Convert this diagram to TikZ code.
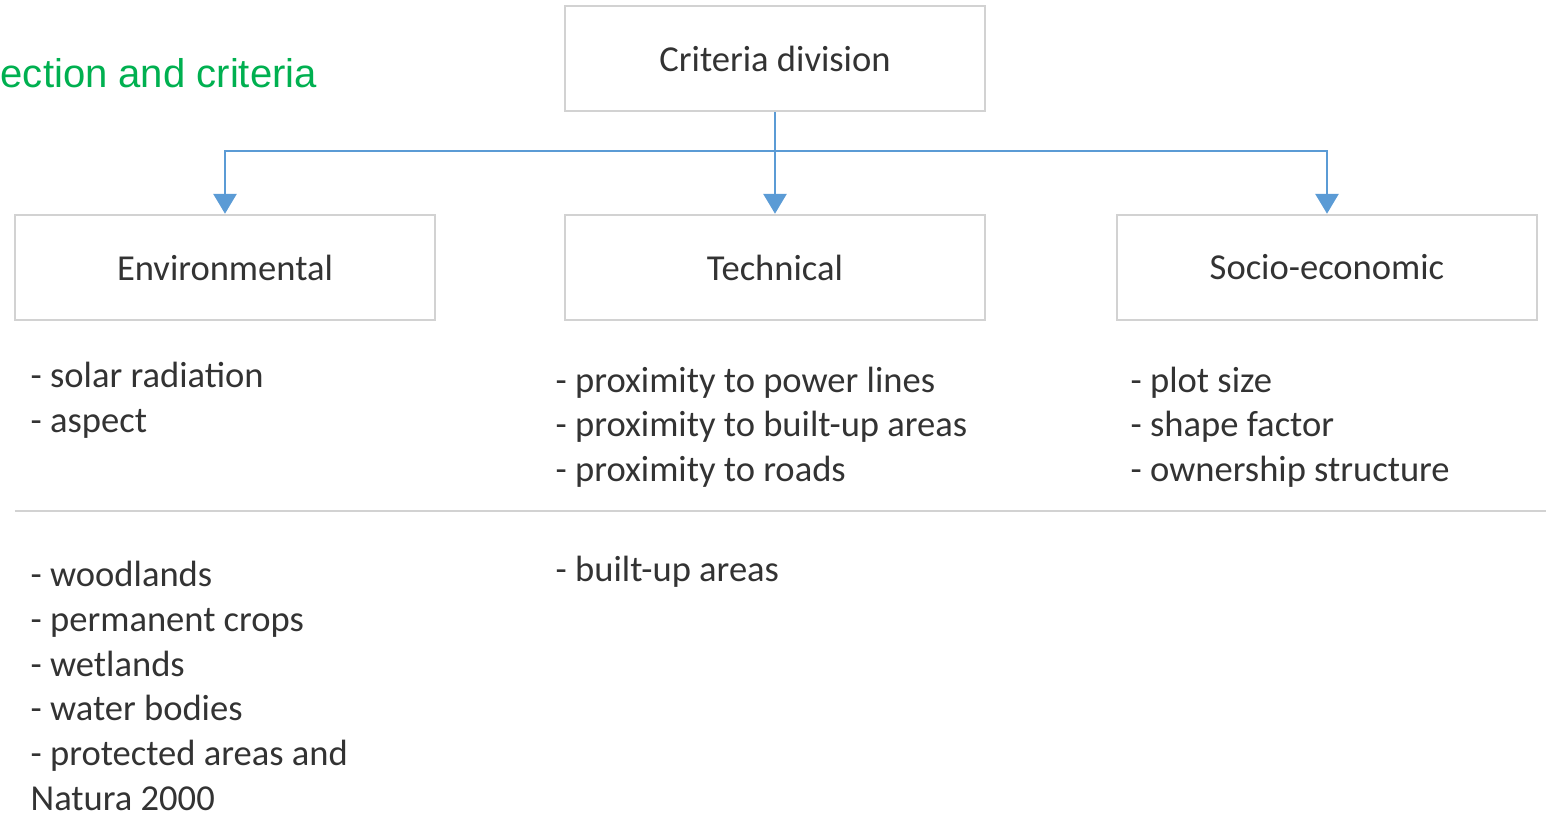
\documentclass[tikz,border=0pt]{standalone}
\usepackage{fontspec}
\setmainfont{Carlito}
\newfontfamily\titlefont{Liberation Sans}
\usetikzlibrary{arrows.meta}
\definecolor{linkblue}{RGB}{91,155,213}
\definecolor{titlegreen}{RGB}{0,176,80}
\definecolor{boxgray}{RGB}{210,210,210}
\tikzset{
	critbox/.style={draw=boxgray, line width=0.7pt, fill=white, minimum width=4.2cm, minimum height=1.05cm, inner sep=0pt, text=black!80, font=\fontsize{10.4}{12}\selectfont},
	critlist/.style={anchor=base west, align=left, inner sep=0pt, text=black!80, font=\fontsize{10.4}{12.6}\selectfont},
	link/.style={linkblue, line width=0.85pt, -{Triangle[width=0.23cm, length=0.2cm]}}
}
\newcommand{\critnode}[3] % {name}{x}{y}{text} boite de critere
{
	\node [critbox] (#1) at (#2,#3)
}
\begin{document}
\begin{tikzpicture}
		\useasboundingbox (0,0) rectangle (15.46,-8.14);
		
		% titre coupe
		\node [anchor=base west, inner sep=0pt, text=titlegreen, font=\titlefont\fontsize{11.4}{13}\selectfont] (title) at (0,-0.88) {ection and criteria};
		
		\critnode{top}{7.75}{-0.585} {Criteria division};
		\critnode{env}{2.25}{-2.675} {Environmental};
		\critnode{tech}{7.75}{-2.675} {Technical};
		\critnode{socio}{13.27}{-2.675} {Socio-economic};
		
		\coordinate (split) at (7.75,-1.51);
		\draw [link] (top) -- (tech);
		\draw [link] (split) -| (env);
		\draw [link] (split) -| (socio);
		
		% criteres (ancre = ligne de base de la derniere ligne)
		\node [critlist] (envcrit) at (0.30,-4.32) {- solar radiation\\- aspect};
		\node [critlist] (techcrit) at (5.55,-4.81) {- proximity to power lines\\- proximity to built-up areas\\- proximity to roads};
		\node [critlist] (sociocrit) at (11.30,-4.81) {- plot size\\- shape factor\\- ownership structure};
		
		\coordinate (sepleft) at (0.15,-5.11);
		\coordinate (sepright) at (15.46,-5.11);
		\draw [boxgray, line width=0.7pt] (sepleft) -- (sepright);
		
		% contraintes
		\node [critlist, font=\fontsize{10.4}{12.7}\selectfont] (envexcl) at (0.30,-8.10) {- woodlands\\- permanent crops\\- wetlands\\- water bodies\\- protected areas and\\Natura 2000};
		\node [critlist] (techexcl) at (5.55,-5.81) {- built-up areas};
		
\end{tikzpicture}
\end{document}
